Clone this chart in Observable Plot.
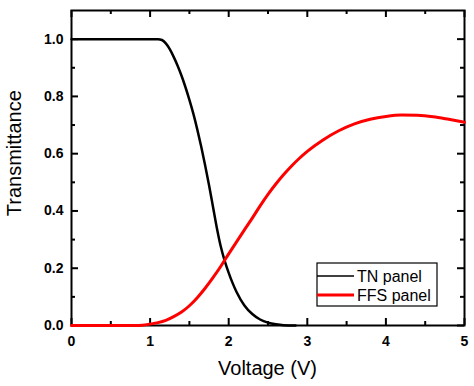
<!DOCTYPE html>
<html>
<head>
<meta charset="utf-8">
<script src="https://cdn.jsdelivr.net/npm/d3@7"></script>
<script src="https://cdn.jsdelivr.net/npm/@observablehq/plot@0.6"></script>
<style>
  html, body { margin: 0; padding: 0; background: #fff; }
  svg { display: block; }
</style>
</head>
<body>
<div id="chart"></div>
<script>
// ---- data ----
const tnVoltage = [0, 0.5, 1.0, 1.1, 1.15, 1.2, 1.25, 1.3, 1.35, 1.4, 1.45, 1.5, 1.55, 1.6, 1.65, 1.7, 1.75, 1.8, 1.85, 1.9, 1.95, 2.0, 2.05, 2.1, 2.2, 2.3, 2.4, 2.5, 2.6, 2.7, 2.85];
const tnTrans   = [1.0, 1.0, 1.0, 1.0, 0.997, 0.985, 0.965, 0.938, 0.907, 0.872, 0.832, 0.788, 0.74, 0.685, 0.625, 0.56, 0.49, 0.415, 0.34, 0.275, 0.225, 0.184, 0.148, 0.117, 0.07, 0.04, 0.021, 0.01, 0.004, 0.001, 0];
const ffsVoltage = [0, 0.5, 0.8, 0.9, 1.0, 1.1, 1.2, 1.3, 1.4, 1.5, 1.6, 1.7, 1.8, 1.9, 2.0, 2.1, 2.2, 2.3, 2.4, 2.5, 2.6, 2.7, 2.8, 2.9, 3.0, 3.2, 3.4, 3.6, 3.8, 4.0, 4.2, 4.4, 4.6, 4.8, 5.0];
const ffsTrans   = [0, 0, 0, 0.001, 0.005, 0.01, 0.018, 0.031, 0.047, 0.069, 0.097, 0.13, 0.167, 0.207, 0.25, 0.292, 0.334, 0.375, 0.418, 0.458, 0.494, 0.527, 0.557, 0.584, 0.608, 0.648, 0.68, 0.704, 0.72, 0.73, 0.735, 0.734, 0.729, 0.72, 0.71];
const seriesNames = ["TN panel", "FFS panel"];
const seriesColors = ["#000000", "#ff0000"];
const xMajor = [0, 1, 2, 3, 4, 5];
const xMinor = [0.5, 1.5, 2.5, 3.5, 4.5];
const yMajor = [0, 0.2, 0.4, 0.6, 0.8, 1.0];
const yMinor = [0.1, 0.3, 0.5, 0.7, 0.9];
const xDomain = [0, 5];
const yDomain = [0, 1.1];
const xTitle = "Voltage (V)";
const yTitle = "Transmittance";

const tn = tnVoltage.map((v, i) => ({v, t: tnTrans[i]}));
const ffs = ffsVoltage.map((v, i) => ({v, t: ffsTrans[i]}));

const W = 474, H = 386, mT = 10, mR = 10, mB = 61, mL = 71;
const innerW = W - mL - mR, innerH = H - mT - mB;
const majorPx = 7, minorPx = 4;
const yPerPx = (yDomain[1] - yDomain[0]) / innerH;
const xPerPx = (xDomain[1] - xDomain[0]) / innerW;
const tickStyle = {stroke: "black", strokeWidth: 2};
const tickFont = {fontSize: 14, fontWeight: "bold"};

function xTicks(values, px) {
  return [
    Plot.ruleX(values, {x: d => d, y1: () => yDomain[0], y2: () => yDomain[0] + px * yPerPx, ...tickStyle}),
    Plot.ruleX(values, {x: d => d, y1: () => yDomain[1], y2: () => yDomain[1] - px * yPerPx, ...tickStyle})
  ];
}
function yTicks(values, px) {
  return [
    Plot.ruleY(values, {y: d => d, x1: () => xDomain[0], x2: () => xDomain[0] + px * xPerPx, ...tickStyle}),
    Plot.ruleY(values, {y: d => d, x1: () => xDomain[1], x2: () => xDomain[1] - px * xPerPx, ...tickStyle})
  ];
}

const chart = Plot.plot({
  width: W,
  height: H,
  marginTop: mT,
  marginRight: mR,
  marginBottom: mB,
  marginLeft: mL,
  style: {fontFamily: "'Liberation Sans', Arial, sans-serif", color: "#000", background: "#fff"},
  x: {domain: xDomain},
  y: {domain: yDomain},
  marks: [
    Plot.axisX(xMajor, {anchor: "bottom", tickSize: 0, tickPadding: 11, tickFormat: d3.format("d"), label: null, ...tickFont}),
    Plot.axisY(yMajor, {anchor: "left", tickSize: 0, tickPadding: 8, tickFormat: d3.format(".1f"), label: null, ...tickFont}),
    Plot.frame({stroke: "black", fill: "none", strokeWidth: 2}),
    ...xTicks(xMajor, majorPx),
    ...xTicks(xMinor, minorPx),
    ...yTicks(yMajor, majorPx),
    ...yTicks(yMinor, minorPx),
    Plot.line(tn, {x: "v", y: "t", stroke: seriesColors[0], strokeWidth: 2.5, curve: "monotone-x"}),
    Plot.line(ffs, {x: "v", y: "t", stroke: seriesColors[1], strokeWidth: 3, curve: "monotone-x"})
  ]
});

const svg = d3.select(chart);
const sx = chart.scale("x"), sy = chart.scale("y");
const font = "'Liberation Sans', Arial, sans-serif";

// axis titles
svg.append("text")
  .attr("x", (sx.apply(xDomain[0]) + sx.apply(xDomain[1])) / 2)
  .attr("y", 375)
  .attr("text-anchor", "middle")
  .attr("font-family", font)
  .attr("font-size", 20)
  .attr("fill", "#000")
  .text(xTitle);
svg.append("text")
  .attr("transform", `translate(21,${sy.apply(0.6)}) rotate(-90)`)
  .attr("text-anchor", "middle")
  .attr("font-family", font)
  .attr("font-size", 20)
  .attr("fill", "#000")
  .text(yTitle);

// legend
const lg = svg.append("g").attr("transform", "translate(317,263)");
lg.append("rect").attr("width", 120).attr("height", 43)
  .attr("fill", "#fff").attr("stroke", "#000").attr("stroke-width", 1.2);
seriesNames.forEach((name, i) => {
  const yy = 13 + i * 19;
  lg.append("line").attr("x1", 0).attr("x2", 37).attr("y1", yy).attr("y2", yy)
    .attr("stroke", seriesColors[i]).attr("stroke-width", i === 0 ? 1.5 : 3);
  lg.append("text").attr("x", 40).attr("y", yy).attr("dy", "0.35em")
    .attr("text-anchor", "start")
    .attr("font-family", font).attr("font-size", 16).attr("fill", "#000")
    .text(name);
});

document.getElementById("chart").appendChild(chart);
</script>
</body>
</html>
